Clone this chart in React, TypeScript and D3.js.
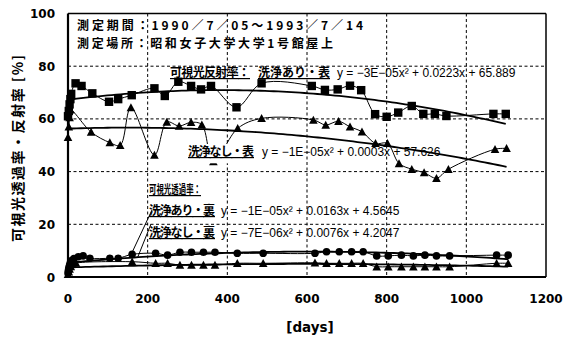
import React from "react";
import * as d3 from "d3";

// ---------- data ----------
const xTicks = [0, 200, 400, 600, 800, 1000, 1200];
const yTicks = [0, 20, 40, 60, 80, 100];

// 可視光反射率 洗浄あり・表 (squares)
const reflWashDays = [0, 2, 4, 6, 8, 19, 34, 61, 103, 126, 160, 217, 243, 277, 309, 334, 359, 423, 486, 612, 645, 677, 708, 736, 771, 800, 829, 863, 892, 921, 950, 1068, 1099];
const reflWashVals = [61, 63, 65.5, 67.5, 69.5, 73.5, 72.5, 69.7, 66.5, 67.5, 69, 71.6, 68.7, 74.1, 72.5, 71.2, 72.5, 64.4, 73.5, 72.5, 71, 71.2, 72.6, 70.9, 61.8, 60.8, 62.4, 64.9, 61.9, 61.9, 61.1, 61.9, 61.9];

// 可視光反射率 洗浄なし・表 (triangles)
const reflNoWashDays = [0, 2, 4, 6, 58, 105, 131, 158, 217, 248, 279, 309, 336, 365, 426, 486, 616, 647, 679, 708, 738, 772, 802, 831, 863, 894, 925, 955, 1072, 1101];
const reflNoWashVals = [53, 57, 60.5, 63.5, 55, 51, 50, 64.3, 46.3, 58.8, 57.3, 58.7, 57.8, 43.8, 56.4, 60.2, 59.6, 57.7, 59.1, 57, 55.1, 50.7, 50.7, 43.1, 40.9, 39.6, 37.5, 40.9, 48.5, 48.8];

// 可視光透過率 洗浄あり・裏 (circles)
const transWashDays = [0, 1, 2, 4, 6, 10, 15, 26, 38, 55, 105, 126, 161, 220, 250, 281, 310, 340, 369, 425, 490, 620, 649, 681, 712, 741, 775, 804, 837, 867, 896, 925, 958, 1076, 1105];
const transWashVals = [1.5, 2.5, 3.5, 4.5, 5.5, 6.3, 7, 7.7, 8, 7.1, 7.1, 7.1, 8.6, 9, 8.3, 9.4, 9.4, 9.4, 9.4, 9, 9, 9, 9.6, 9.6, 9.6, 9.6, 8, 8, 8.3, 8, 8.3, 8, 8, 8.3, 8.3];

// 可視光透過率 洗浄なし・裏 (triangles)
const transNoWashDays = [0, 2, 4, 7, 12, 20, 161, 220, 250, 281, 310, 340, 369, 425, 490, 620, 649, 681, 712, 741, 775, 804, 837, 867, 896, 925, 958, 1076, 1105];
const transNoWashVals = [1, 2, 3, 4, 4.8, 5.3, 5.8, 5.2, 5.2, 4.5, 4.5, 4.5, 4.5, 5.2, 5.2, 5.4, 5.2, 5.2, 5.2, 5.2, 3.9, 3.9, 3.9, 3.9, 3.9, 3.9, 3.9, 5.2, 5.2];

const titleLines = ["測定期間：1990／7／05～1993／7／14", "測定場所：昭和女子大学大学1号館屋上"];
const eqReflWash = "y = −3E−05x² + 0.0223x + 65.889";
const eqReflNoWash = "y = −1E−05x² + 0.0003x + 57.626";
const eqTransWash = "y = −1E−05x² + 0.0163x + 4.5645";
const eqTransNoWash = "y = −7E−06x² + 0.0076x + 4.2047";

// ---------- helpers ----------
function polyfit2(xs: number[], ys: number[]) {
  const n = xs.length;
  let s0 = n, s1 = 0, s2 = 0, s3 = 0, s4 = 0, t0 = 0, t1 = 0, t2 = 0;
  for (let i = 0; i < n; i++) {
    const x = xs[i], y = ys[i];
    s1 += x; s2 += x * x; s3 += x * x * x; s4 += x * x * x * x;
    t0 += y; t1 += x * y; t2 += x * x * y;
  }
  const M = [[s4, s3, s2, t2], [s3, s2, s1, t1], [s2, s1, s0, t0]];
  for (let i = 0; i < 3; i++) {
    let p = i;
    for (let r = i + 1; r < 3; r++) if (Math.abs(M[r][i]) > Math.abs(M[p][i])) p = r;
    [M[i], M[p]] = [M[p], M[i]];
    for (let r = 0; r < 3; r++) {
      if (r === i) continue;
      const f = M[r][i] / M[i][i];
      for (let c = i; c < 4; c++) M[r][c] -= f * M[i][c];
    }
  }
  return [M[0][3] / M[0][0], M[1][3] / M[1][1], M[2][3] / M[2][2]];
}

const W = 571, H = 343;
const x = d3.scaleLinear().domain([0, 1200]).range([68, 546]);
const y = d3.scaleLinear().domain([0, 100]).range([277, 13.5]);

const zip = (xs: number[], ys: number[]) => xs.map((d, i) => [d, ys[i]] as [number, number]);

const lineGen = d3.line<[number, number]>().x(d => x(d[0])).y(d => y(d[1])).curve(d3.curveCatmullRom.alpha(0.5));
const straight = d3.line<[number, number]>().x(d => x(d[0])).y(d => y(d[1]));

function trend(xs: number[], ys: number[]) {
  const [a, b, c] = polyfit2(xs, ys);
  const xmax = d3.max(xs) as number;
  const pts = d3.range(0, 101).map(i => {
    const xx = (xmax * i) / 100;
    return [xx, a * xx * xx + b * xx + c] as [number, number];
  });
  return straight(pts) as string;
}

const numFont = "'DejaVu Sans', sans-serif";
const jpFont = "'Noto Sans CJK JP', sans-serif";
const eqFont = "'Liberation Sans', Arial, sans-serif";

const Square = ({ d }: { d: [number, number] }) => (
  <rect x={x(d[0]) - 4.2} y={y(d[1]) - 4.2} width={8.4} height={8.4} fill="#000" />
);
const Tri = ({ d }: { d: [number, number] }) => {
  const cx = x(d[0]), cy = y(d[1]);
  return <path d={`M${cx},${cy - 4.3}L${cx + 4.3},${cy + 3.7}L${cx - 4.3},${cy + 3.7}Z`} fill="#000" />;
};
const Dot = ({ d }: { d: [number, number] }) => <circle cx={x(d[0])} cy={y(d[1])} r={3.8} fill="#000" />;

export default function App() {
  const sRW = zip(reflWashDays, reflWashVals);
  const sRN = zip(reflNoWashDays, reflNoWashVals);
  const sTW = zip(transWashDays, transWashVals);
  const sTN = zip(transNoWashDays, transNoWashVals);
  const x0 = x(0), x1 = x(1200), yTop = y(100), yBot = y(0);

  return (
    <svg width={W} height={H} style={{ position: "absolute", left: 0, top: 0, background: "#fff" }}>
      <rect width={W} height={H} fill="#fff" />
      {/* grid */}
      {xTicks.filter(t => t > 0 && t < 1200).map(t => (
        <line key={"gx" + t} x1={x(t)} x2={x(t)} y1={yTop} y2={yBot} stroke="#000" strokeWidth={1} strokeDasharray="3,2.5" />
      ))}
      {yTicks.filter(t => t > 0 && t < 100).map(t => (
        <line key={"gy" + t} x1={x0} x2={x1} y1={y(t)} y2={y(t)} stroke="#000" strokeWidth={1} strokeDasharray="3,2.5" />
      ))}
      {/* frame */}
      <line x1={x0} x2={x1} y1={yTop} y2={yTop} stroke="#000" strokeWidth={1.5} />
      <line x1={x1} x2={x1} y1={yTop} y2={yBot} stroke="#000" strokeWidth={1.5} />
      <line x1={x0} x2={x1} y1={yBot} y2={yBot} stroke="#000" strokeWidth={2.2} />
      <line x1={x0} x2={x0} y1={yTop} y2={yBot} stroke="#000" strokeWidth={2.2} />

      {/* tick labels */}
      {yTicks.map(t => (
        <text key={"ty" + t} x={55} y={y(t) + 4.5} textAnchor="end" fontFamily={numFont} fontWeight="bold" fontSize={12}>{t}</text>
      ))}
      {xTicks.map(t => (
        <text key={"tx" + t} x={x(t)} y={303} textAnchor="middle" fontFamily={numFont} fontWeight="bold" fontSize={12}>{t}</text>
      ))}
      <text x={310} y={332} textAnchor="middle" fontFamily={numFont} fontWeight="bold" fontSize={13.5}>[days]</text>
      <text transform="translate(23,148.5) rotate(-90)" textAnchor="middle" fontFamily={jpFont} fontWeight="bold" fontSize={14} textLength={187} lengthAdjust="spacing">可視光透過率・反射率 [%]</text>

      {/* connecting lines */}
      <path d={lineGen(sRW) as string} fill="none" stroke="#000" strokeWidth={1} />
      <path d={lineGen(sRN) as string} fill="none" stroke="#000" strokeWidth={1} />
      <path d={lineGen(sTW) as string} fill="none" stroke="#000" strokeWidth={1} />
      <path d={lineGen(sTN) as string} fill="none" stroke="#000" strokeWidth={1} />

      {/* trend lines */}
      <path d={trend(reflWashDays, reflWashVals)} fill="none" stroke="#000" strokeWidth={1.8} />
      <path d={trend(reflNoWashDays, reflNoWashVals)} fill="none" stroke="#000" strokeWidth={1.8} />
      <path d={trend(transWashDays, transWashVals)} fill="none" stroke="#000" strokeWidth={1.8} />
      <path d={trend(transNoWashDays, transNoWashVals)} fill="none" stroke="#000" strokeWidth={1.8} />

      {/* markers */}
      {sRW.map((d, i) => <Square key={"a" + i} d={d} />)}
      {sRN.map((d, i) => <Tri key={"b" + i} d={d} />)}
      {sTN.map((d, i) => <Tri key={"d" + i} d={d} />)}
      {sTW.map((d, i) => <Dot key={"c" + i} d={d} />)}

      {/* title */}
      <text x={77} y={29.5} fontFamily={jpFont} fontWeight="bold" fontSize={12} textLength={286} lengthAdjust="spacing">{titleLines[0]}</text>
      <text x={77} y={47.5} fontFamily={jpFont} fontWeight="bold" fontSize={12} textLength={256} lengthAdjust="spacing">{titleLines[1]}</text>

      {/* reflectance labels */}
      <text x={170} y={77} fontFamily={jpFont} fontWeight="bold" fontSize={12} textDecoration="underline" textLength={80} lengthAdjust="spacing">可視光反射率：</text>
      <text x={258} y={77} fontFamily={jpFont} fontWeight="bold" fontSize={12} textDecoration="underline" textLength={72} lengthAdjust="spacing">洗浄あり・表</text>
      <text x={337} y={77} fontFamily={eqFont} fontSize={12}>{eqReflWash}</text>

      <rect x={186} y={144} width={71} height={19.3} fill="#fff" />
      <text x={188} y={156} fontFamily={jpFont} fontWeight="bold" fontSize={12} textDecoration="underline" textLength={66} lengthAdjust="spacing">洗浄なし・表</text>
      <text x={262} y={156} fontFamily={eqFont} fontSize={12}>{eqReflNoWash}</text>

      {/* transmittance labels */}
      <text x={149} y={194} fontFamily={jpFont} fontWeight="bold" fontSize={12} textDecoration="underline" textLength={52} lengthAdjust="spacingAndGlyphs">可視光透過率：</text>
      <text x={149} y={215} fontFamily={jpFont} fontWeight="bold" fontSize={12} textDecoration="underline" textLength={66} lengthAdjust="spacing">洗浄あり・裏</text>
      <text x={221} y={215} fontFamily={eqFont} fontSize={12}>{eqTransWash}</text>
      <text x={149} y={237} fontFamily={jpFont} fontWeight="bold" fontSize={12} textDecoration="underline" textLength={66} lengthAdjust="spacing">洗浄なし・裏</text>
      <text x={221} y={237} fontFamily={eqFont} fontSize={12}>{eqTransNoWash}</text>

      {/* leader lines */}
      <line x1={152} y1={210} x2={x(161)} y2={y(8.6) - 2} stroke="#000" strokeWidth={1} />
      <line x1={151} y1={224} x2={x(175)} y2={y(7.5)} stroke="#000" strokeWidth={1} />
    </svg>
  );
}
